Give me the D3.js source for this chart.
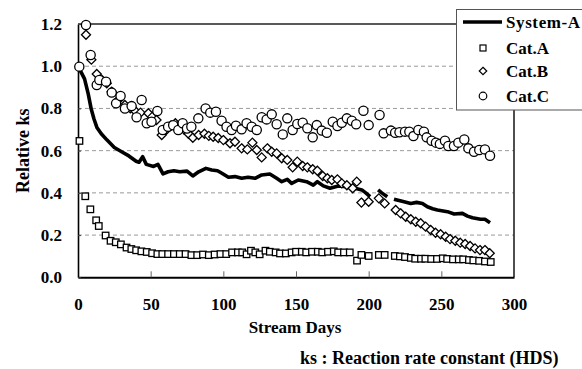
<!DOCTYPE html>
<html>
<head>
<meta charset="utf-8">
<script src="https://cdn.jsdelivr.net/npm/d3@7/dist/d3.min.js"></script>
<style>
  html, body { margin: 0; padding: 0; background: #fff; }
  svg { display: block; }
</style>
</head>
<body>
<svg id="chart" width="582" height="369"></svg>
<script>
// Relative HDS rate constant vs. stream days

// System-A (solid line); null marks a break in the line
const sysDays = [0, 1.5, 4.5, 7, 9, 11, 13, 16, 20, 25, 30, 35, 40, 42, 44.5, 47, 52, 55, 58.5, 62, 66, 70, 75, 79, 83, 88, 92, 96, 99, 103.5, 108, 112.6, 117, 121.8, 126.4, 132, 136.7, 140.2, 144, 147, 151.6, 157.3, 161.9, 164.7, 168.8, 173.4, 179.1, 185, 190.6, 195.3, 198, 201, 204, 206.5, 209, 212.8, 215, 217.4, 223, 229, 233, 237, 240.4, 244, 247.3, 254.2, 258.8, 264.5, 268, 271.4, 277, 280, 283.5];
const sysVals = [1.0, 0.98, 0.94, 0.87, 0.80, 0.75, 0.71, 0.68, 0.65, 0.615, 0.595, 0.575, 0.55, 0.545, 0.571, 0.535, 0.525, 0.535, 0.49, 0.50, 0.505, 0.50, 0.503, 0.48, 0.50, 0.516, 0.508, 0.505, 0.493, 0.474, 0.477, 0.469, 0.474, 0.469, 0.485, 0.489, 0.469, 0.453, 0.464, 0.445, 0.461, 0.453, 0.437, 0.453, 0.433, 0.422, 0.433, 0.429, 0.422, 0.414, 0.40, 0.382, null, 0.414, 0.40, 0.382, null, 0.37, 0.36, 0.35, 0.355, 0.35, 0.334, 0.325, 0.319, 0.311, 0.30, 0.303, 0.29, 0.282, 0.275, 0.275, 0.259];

// Cat.A (squares)
const catADays = [1, 5, 8.5, 12.5, 14.3, 19, 22.4, 26, 29.5, 33.4, 36.7, 40, 43.6, 47.3, 51, 54.6, 58, 62, 66, 70, 74, 78, 82, 86, 90, 94, 98, 102, 106, 110, 113, 116, 119, 122, 125, 129, 132, 136, 139, 143, 147, 150, 154, 157, 161, 165, 168, 172, 176, 179, 183, 187, 192, 195, 200, 207, 211, 218, 221.5, 225, 229, 232, 236, 239, 243, 247, 251, 254, 258, 262, 265, 269, 272, 276, 280, 284];
const catAVals = [0.646, 0.384, 0.322, 0.270, 0.243, 0.198, 0.173, 0.166, 0.156, 0.141, 0.134, 0.128, 0.123, 0.120, 0.114, 0.110, 0.110, 0.110, 0.110, 0.110, 0.110, 0.105, 0.105, 0.108, 0.105, 0.108, 0.110, 0.110, 0.118, 0.118, 0.118, 0.109, 0.126, 0.118, 0.109, 0.126, 0.121, 0.118, 0.113, 0.113, 0.118, 0.121, 0.121, 0.118, 0.121, 0.121, 0.118, 0.121, 0.123, 0.118, 0.118, 0.118, 0.079, 0.106, 0.101, 0.106, 0.106, 0.101, 0.099, 0.096, 0.092, 0.088, 0.088, 0.088, 0.087, 0.087, 0.090, 0.087, 0.085, 0.085, 0.085, 0.082, 0.080, 0.078, 0.075, 0.0725];

// Cat.B (diamonds)
const catBDays = [5.5, 9.2, 12.9, 16.3, 19.8, 23.2, 27.7, 32.3, 36, 39.2, 43, 48.4, 51, 54, 57.6, 61, 64, 67, 70, 73, 76, 79, 83, 87, 90, 93, 96.5, 100, 104.6, 108, 112.6, 116.5, 120, 123, 126.4, 130.3, 133.3, 136.7, 140.2, 144, 147.7, 150.9, 154.6, 157.8, 161.5, 164.7, 168.4, 171.6, 174.6, 178.5, 181.5, 185, 189, 191.8, 195, 200, 207, 211, 218.6, 222, 225.5, 229, 232.4, 235.8, 239.2, 242.7, 246, 249.5, 253, 256, 259.6, 263, 266.4, 269.8, 273.2, 276.6, 280, 283.3];
const catBVals = [1.149, 1.031, 0.963, 0.936, 0.919, 0.879, 0.84, 0.816, 0.80, 0.789, 0.78, 0.777, 0.76, 0.745, 0.674, 0.70, 0.72, 0.73, 0.72, 0.70, 0.68, 0.661, 0.674, 0.68, 0.67, 0.666, 0.66, 0.65, 0.635, 0.642, 0.611, 0.606, 0.638, 0.603, 0.568, 0.611, 0.595, 0.587, 0.564, 0.556, 0.521, 0.548, 0.527, 0.521, 0.512, 0.505, 0.48, 0.469, 0.461, 0.464, 0.445, 0.436, 0.422, 0.453, 0.354, 0.358, 0.374, 0.35, 0.319, 0.303, 0.287, 0.275, 0.263, 0.256, 0.24, 0.224, 0.211, 0.204, 0.192, 0.181, 0.173, 0.164, 0.158, 0.148, 0.137, 0.129, 0.129, 0.114];

// Cat.C (circles)
const catCDays = [0.9, 5.5, 8.7, 12.9, 14.7, 19.3, 23.2, 26.2, 29.3, 32.3, 36.9, 40.3, 43.8, 47.3, 50.6, 54.6, 58.3, 62, 65.5, 69, 72, 75, 78, 82.8, 87.8, 91, 94.9, 98.8, 102.2, 105.7, 108.7, 112.6, 116, 119.5, 123, 126.4, 129.8, 133.3, 136.7, 140.9, 144, 147.7, 150.9, 154.6, 157.8, 161.5, 164.3, 167.7, 171.2, 175.3, 178.5, 181.5, 185, 188.4, 191.4, 196.4, 200, 207.5, 210.3, 215.3, 218.2, 221.2, 225, 228, 230.8, 234.2, 238, 239.9, 243.3, 246.3, 249, 252.5, 254.8, 258.7, 261.7, 265.8, 268.6, 272.5, 276.1, 280, 283.5];
const catCVals = [0.998, 1.195, 1.053, 0.911, 0.935, 0.927, 0.875, 0.824, 0.859, 0.80, 0.811, 0.758, 0.84, 0.73, 0.737, 0.788, 0.698, 0.713, 0.72, 0.698, 0.73, 0.705, 0.713, 0.753, 0.80, 0.78, 0.784, 0.742, 0.713, 0.698, 0.718, 0.701, 0.73, 0.713, 0.698, 0.758, 0.748, 0.772, 0.725, 0.677, 0.753, 0.698, 0.726, 0.732, 0.706, 0.663, 0.721, 0.695, 0.685, 0.737, 0.717, 0.732, 0.753, 0.742, 0.725, 0.789, 0.721, 0.769, 0.682, 0.695, 0.685, 0.687, 0.69, 0.69, 0.669, 0.698, 0.69, 0.663, 0.647, 0.638, 0.632, 0.647, 0.622, 0.622, 0.638, 0.653, 0.611, 0.595, 0.603, 0.606, 0.576];

const xTicks = [0, 50, 100, 150, 200, 250, 300];
const yTicks = [0.0, 0.2, 0.4, 0.6, 0.8, 1.0, 1.2];
const gridTicks = [0.2, 0.4, 0.6, 0.8, 1.0];
const legendLabels = ["System-A", "Cat.A", "Cat.B", "Cat.C"];

const FONT = "Liberation Serif";

const svg = d3.select("#chart");
const L = 78, R = 514, T = 24, B = 277.3;

const x = d3.scaleLinear().domain([0, 300]).range([L, R]);
const y = d3.scaleLinear().domain([0, 1.2]).range([B, T]);

const zip = (ds, vs) => ds.map((d, i) => ({ d, v: vs[i] }));
const sysData = zip(sysDays, sysVals);
const aData = zip(catADays, catAVals);
const bData = zip(catBDays, catBVals);
const cData = zip(catCDays, catCVals);

// dashed gridlines
svg.append("g")
  .selectAll("line")
  .data(gridTicks)
  .join("line")
  .attr("x1", L).attr("x2", R)
  .attr("y1", d => y(d)).attr("y2", d => y(d))
  .attr("stroke", "#9a9a9a")
  .attr("stroke-width", 1)
  .attr("stroke-dasharray", "4,3");

// frame: top and right
svg.append("line").attr("x1", L).attr("x2", R).attr("y1", T).attr("y2", T)
  .attr("stroke", "#222").attr("stroke-width", 1.4);
svg.append("line").attr("x1", R).attr("x2", R).attr("y1", T).attr("y2", B)
  .attr("stroke", "#222").attr("stroke-width", 1.6);

const bold = (sel, size) => sel
  .attr("font-family", FONT).attr("font-weight", "bold")
  .attr("font-size", size).attr("fill", "#000");

// axes
const xAxis = d3.axisBottom(x).tickValues(xTicks).tickSizeInner(-6).tickSizeOuter(0).tickPadding(21)
  .tickFormat(d3.format("d"));
const gx = svg.append("g").attr("transform", `translate(0,${B})`).call(xAxis);
gx.select(".domain").attr("stroke", "#000").attr("stroke-width", 2);
gx.selectAll(".tick line").attr("stroke", "#666").attr("stroke-width", 1);
gx.selectAll(".tick").filter(d => d === 0 || d === 300).select("line").remove();
gx.selectAll(".tick text").call(bold, 17);

const yAxis = d3.axisLeft(y).tickValues(yTicks).tickSizeInner(-3).tickSizeOuter(0).tickPadding(16)
  .tickFormat(d3.format(".1f"));
const gy = svg.append("g").attr("transform", `translate(${L},0)`).call(yAxis);
gy.select(".domain").attr("stroke", "#000").attr("stroke-width", 1.6);
gy.selectAll(".tick line").attr("stroke", "#444");
gy.selectAll(".tick text").call(bold, 17);

// System-A line
const line = d3.line()
  .defined(p => p.v !== null)
  .x(p => x(p.d)).y(p => y(p.v));
svg.append("path").datum(sysData)
  .attr("d", line)
  .attr("fill", "none").attr("stroke", "#000").attr("stroke-width", 3.6)
  .attr("stroke-linejoin", "round");

const mk = { fill: "#fff", stroke: "#000", sw: 1.3 };

// Cat.A squares
const sq = 6.5;
svg.append("g").selectAll("rect").data(aData).join("rect")
  .attr("x", p => x(p.d) - sq / 2).attr("y", p => y(p.v) - sq / 2)
  .attr("width", sq).attr("height", sq)
  .attr("fill", mk.fill).attr("stroke", mk.stroke).attr("stroke-width", mk.sw);

// Cat.B diamonds
const diamond = d3.symbol().type(d3.symbolDiamond2).size(52);
svg.append("g").selectAll("path").data(bData).join("path")
  .attr("transform", p => `translate(${x(p.d)},${y(p.v)})`)
  .attr("d", diamond)
  .attr("fill", mk.fill).attr("stroke", mk.stroke).attr("stroke-width", mk.sw);

// Cat.C circles
svg.append("g").selectAll("circle").data(cData).join("circle")
  .attr("cx", p => x(p.d)).attr("cy", p => y(p.v)).attr("r", 4.6)
  .attr("fill", mk.fill).attr("stroke", mk.stroke).attr("stroke-width", mk.sw);

// titles
svg.append("text").call(bold, 18)
  .attr("transform", `translate(29,${(T + B) / 2}) rotate(-90)`)
  .attr("text-anchor", "middle")
  .text("Relative ks");
svg.append("text").call(bold, 17)
  .attr("x", (L + R) / 2 - 1).attr("y", 333)
  .attr("text-anchor", "middle")
  .text("Stream Days");
svg.append("text").call(bold, 18)
  .attr("x", 300).attr("y", 364)
  .text("ks : Reaction rate constant (HDS)");

// legend
const lg = svg.append("g");
lg.append("rect").attr("x", 456.5).attr("y", 9.5).attr("width", 140).attr("height", 100.5)
  .attr("fill", "#fff").attr("stroke", "#555").attr("stroke-width", 1);
const rowsY = [22, 48, 71, 96];
const tx = 506, sx = 483;
lg.append("line").attr("x1", 463).attr("x2", 502).attr("y1", rowsY[0]).attr("y2", rowsY[0])
  .attr("stroke", "#000").attr("stroke-width", 3.6);
lg.append("rect").attr("x", sx - 3).attr("y", rowsY[1] - 3).attr("width", 6).attr("height", 6)
  .attr("fill", "#fff").attr("stroke", "#000").attr("stroke-width", 1.2);
lg.append("path").attr("transform", `translate(${sx},${rowsY[2]})`)
  .attr("d", d3.symbol().type(d3.symbolDiamond2).size(36))
  .attr("fill", "#fff").attr("stroke", "#000").attr("stroke-width", 1.2);
lg.append("circle").attr("cx", sx).attr("cy", rowsY[3]).attr("r", 3.8)
  .attr("fill", "#fff").attr("stroke", "#000").attr("stroke-width", 1.2);
lg.selectAll("text.lab").data(legendLabels).join("text")
  .attr("class", "lab").call(bold, 17)
  .attr("x", tx).attr("y", (d, i) => rowsY[i] + 6)
  .attr("letter-spacing", (d, i) => i === 0 ? 0.6 : 0)
  .text(d => d);
</script>
</body>
</html>
